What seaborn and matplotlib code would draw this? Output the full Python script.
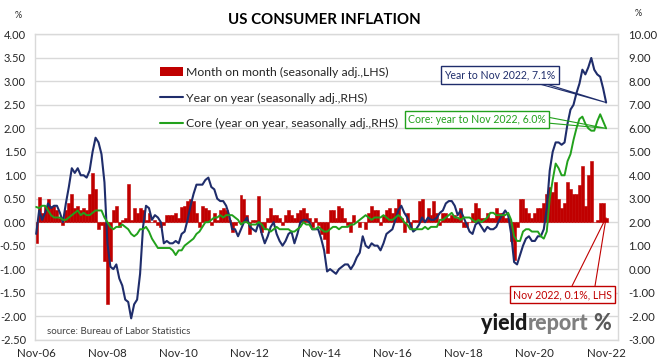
import numpy as np
import pandas as pd
import matplotlib
matplotlib.use('Agg')
import matplotlib.pyplot as plt
import seaborn as sns
from matplotlib.patches import Patch, Polygon
from matplotlib.lines import Line2D
from matplotlib.ticker import FormatStrFormatter

# monthly series, Nov 2006 .. Nov 2022
# month on month % (LHS)
mom = [-0.45, 0.53,
       0.2, 0.35, 0.5, 0.35, 0.35, 0.25, 0.1, -0.05, 0.25, 0.4, 0.6, 0.3,
       0.35, 0.25, 0.3, 0.25, 0.6, 1.05, 0.7, -0.15, -0.05, -0.82, -1.75, -0.82,
       0.25, 0.35, -0.1, 0.05, 0.1, 0.82, 0.05, 0.3, 0.2, 0.3, 0.25, 0.05,
       0.2, 0.0, 0.05, -0.05, -0.1, -0.05, 0.15, 0.15, 0.15, 0.2, 0.1, 0.32,
       0.35, 0.45, 0.5, 0.45, 0.2, -0.1, 0.35, 0.3, 0.25, -0.05, 0.2, 0.05,
       0.25, 0.3, 0.25, 0.05, -0.2, -0.05, 0.0, 0.57, 0.5, 0.15, -0.25, 0.05,
       0.05, 0.55, -0.2, -0.15, 0.1, 0.3, 0.15, 0.15, 0.1, -0.05, 0.15, 0.25,
       0.15, 0.1, 0.2, 0.25, 0.3, 0.2, 0.1, -0.1, 0.1, -0.05, -0.25, -0.35,
       -0.65, 0.25, 0.25, 0.1, 0.35, 0.3, 0.1, -0.05, -0.2, 0.15, 0.0, -0.1,
       0.0, -0.15, 0.2, 0.35, 0.25, 0.25, -0.05, 0.15, 0.25, 0.3, 0.2, 0.3,
       0.5, 0.1, -0.2, 0.2, -0.1, 0.05, 0.05, 0.45, 0.5, 0.05, 0.3, 0.15,
       0.45, 0.2, -0.05, 0.2, 0.2, 0.1, 0.15, 0.15, 0.1, 0.3, -0.1, -0.1,
       0.0, 0.2, 0.4, 0.3, 0.1, 0.1, 0.2, 0.1, 0.1, 0.3, 0.2, 0.2,
       0.1, 0.1, -0.4, -0.8, -0.1, 0.5, 0.5, 0.3, 0.2, 0.1, 0.2, 0.3,
       0.3, 0.4, 0.6, 0.75, 0.65, 0.85, 0.5, 0.3, 0.4, 0.85, 0.7, 0.6,
       0.6, 0.8, 1.2, 0.35, 1.0, 1.3, 0.0, 0.05, 0.4, 0.4, 0.1]

# year on year % (RHS)
yoy = [1.5, 2.5,
       2.1, 2.4, 2.8, 2.6, 2.7, 2.7, 2.4, 2.0, 2.8, 3.5, 4.3, 4.1,
       4.3, 4.0, 4.0, 3.9, 4.2, 5.0, 5.6, 5.4, 4.9, 3.7, 1.1, 0.1,
       0.0, 0.2, -0.4, -0.7, -1.3, -1.4, -2.1, -1.5, -1.3, -0.2, 1.8, 2.7,
       2.6, 2.1, 2.3, 2.2, 2.0, 1.1, 1.2, 1.1, 1.1, 1.2, 1.1, 1.5,
       1.6, 2.1, 2.7, 3.2, 3.6, 3.6, 3.6, 3.8, 3.9, 3.5, 3.4, 3.0,
       2.9, 2.9, 2.7, 2.3, 1.7, 1.7, 1.4, 1.7, 2.0, 2.2, 1.8, 1.7,
       1.6, 2.0, 1.5, 1.1, 1.4, 1.8, 2.0, 1.5, 1.2, 1.0, 1.2, 1.5,
       1.6, 1.1, 1.5, 2.0, 2.1, 2.1, 2.0, 1.7, 1.7, 1.7, 1.3, 0.8,
       -0.1, 0.0, -0.1, -0.2, 0.0, 0.1, 0.2, 0.2, 0.0, 0.2, 0.5, 0.7,
       1.4, 1.0, 0.9, 1.1, 1.0, 1.0, 0.8, 1.1, 1.5, 1.6, 1.7, 2.1,
       2.5, 2.7, 2.4, 2.2, 1.9, 1.6, 1.7, 1.9, 2.2, 2.0, 2.2, 2.1,
       2.1, 2.2, 2.4, 2.5, 2.8, 2.9, 2.9, 2.7, 2.3, 2.5, 2.2, 1.9,
       1.6, 1.5, 1.9, 2.0, 1.8, 1.6, 1.8, 1.7, 1.7, 1.8, 2.1, 2.3,
       2.5, 2.3, 1.5, 0.3, 0.2, 0.6, 1.0, 1.3, 1.4, 1.2, 1.2, 1.4,
       1.4, 1.7, 2.6, 4.2, 5.0, 5.4, 5.4, 5.3, 5.4, 6.2, 6.8, 7.0,
       7.5, 7.9, 8.5, 8.3, 8.6, 9.0, 8.5, 8.3, 8.2, 7.7, 7.1]

# core year on year % (RHS)
core = [2.65, 2.6,
        2.7, 2.7, 2.5, 2.3, 2.2, 2.2, 2.2, 2.1, 2.1, 2.2, 2.3, 2.4,
        2.5, 2.3, 2.4, 2.3, 2.3, 2.4, 2.5, 2.5, 2.5, 2.2, 2.0, 1.8,
        1.7, 1.8, 1.8, 1.9, 1.8, 1.7, 1.5, 1.4, 1.5, 1.7, 1.7, 1.8,
        1.6, 1.3, 1.1, 0.9, 0.9, 0.9, 0.9, 0.9, 0.8, 0.6, 0.8, 0.8,
        1.0, 1.1, 1.2, 1.3, 1.5, 1.6, 1.8, 2.0, 2.0, 2.1, 2.2, 2.2,
        2.3, 2.2, 2.3, 2.3, 2.3, 2.2, 2.1, 1.9, 2.0, 2.0, 1.9, 1.9,
        1.9, 2.0, 1.9, 1.7, 1.7, 1.6, 1.7, 1.8, 1.7, 1.7, 1.7, 1.7,
        1.6, 1.6, 1.7, 1.8, 2.0, 1.9, 1.9, 1.7, 1.7, 1.8, 1.7, 1.6,
        1.6, 1.7, 1.8, 1.8, 1.7, 1.8, 1.8, 1.8, 1.9, 1.9, 2.0, 2.1,
        2.2, 2.3, 2.2, 2.1, 2.2, 2.2, 2.2, 2.3, 2.2, 2.1, 2.1, 2.2,
        2.3, 2.2, 2.0, 1.9, 1.7, 1.7, 1.7, 1.7, 1.7, 1.8, 1.7, 1.8,
        1.8, 1.8, 2.1, 2.1, 2.2, 2.3, 2.4, 2.2, 2.2, 2.1, 2.2, 2.2,
        2.2, 2.1, 2.0, 2.1, 2.0, 2.1, 2.2, 2.4, 2.4, 2.3, 2.3, 2.3,
        2.3, 2.4, 2.1, 1.4, 1.2, 1.2, 1.6, 1.7, 1.7, 1.6, 1.6, 1.6,
        1.4, 1.3, 1.6, 3.0, 3.8, 4.5, 4.3, 4.0, 4.0, 4.6, 4.9, 5.5,
        6.0, 6.4, 6.5, 6.2, 6.0, 5.9, 5.9, 6.3, 6.6, 6.3, 6.0]

tick_labels = ['Nov-06', 'Nov-08', 'Nov-10', 'Nov-12', 'Nov-14',
               'Nov-16', 'Nov-18', 'Nov-20', 'Nov-22']
legend_labels = ['Month on month (seasonally adj.,LHS)',
                 'Year on year (seasonally adj.,RHS)',
                 'Core (year on year, seasonally adj.,RHS)']

df = pd.DataFrame({'month': np.arange(len(mom)), 'mom': mom, 'yoy': yoy, 'core': core})

sns.set_style('white')
plt.rcParams['font.family'] = ['Lato', 'DejaVu Sans']
plt.rcParams['axes.unicode_minus'] = False

RED = '#C00000'
NAVY = '#1F2D6B'
GREEN = '#22A11C'
GRID = '#D9D9D9'
TXT = '#262626'

W, H = 662, 363
fig = plt.figure(figsize=(W / 100, H / 100), dpi=100)
ax = fig.add_axes([35 / W, 23.5 / H, 583 / W, 305 / H])

# bars on the left axis
sns.barplot(data=df, x='month', y='mom', native_scale=True, color=RED,
            saturation=1, width=1, errorbar=None, linewidth=0.4, edgecolor=RED, ax=ax)

ax2 = ax.twinx()
sns.lineplot(data=df, x='month', y='yoy', color=NAVY, lw=1.5, ax=ax2)
sns.lineplot(data=df, x='month', y='core', color=GREEN, lw=1.4, ax=ax2)

ax.set_xlim(-0.4, 196)
ax.set_ylim(-2.5, 4)
ax.set_yticks(np.arange(-2.5, 4.01, 0.5))
ax.yaxis.set_major_formatter(FormatStrFormatter('%.2f'))
ax2.set_ylim(-3, 10)
ax2.set_yticks(np.arange(-3, 10.01, 1))
ax2.yaxis.set_major_formatter(FormatStrFormatter('%.2f'))
ax.set_xticks(np.arange(0, len(mom), 24))
ax.set_xticklabels(tick_labels)
for a in (ax, ax2):
    a.set_xlabel('')
    a.set_ylabel('')
ax.tick_params(axis='both', length=0, labelsize=8.0, labelcolor=TXT)
ax.tick_params(axis='x', labelsize=8.3, pad=6)
ax.tick_params(axis='y', pad=6.5)
ax2.tick_params(axis='y', length=0, labelsize=8.2, labelcolor=TXT, pad=7.5)

ax.yaxis.grid(True, color=GRID, lw=1)
ax.set_axisbelow(True)
for s in ax.spines.values():
    s.set_color(GRID)
    s.set_linewidth(1)
for s in ax2.spines.values():
    s.set_visible(False)

# title and unit marks
fig.text(324 / W, 1 - 20.5 / H, 'US CONSUMER INFLATION', ha='center', va='center',
         fontsize=10.8, fontweight='bold', color='black')
fig.text(18 / W, 1 - 15 / H, '%', ha='center', va='center', fontsize=6.5, color=TXT)
fig.text(638 / W, 1 - 13 / H, '%', ha='center', va='center', fontsize=6.5, color=TXT)

# legend
handles = [Patch(facecolor=RED, edgecolor='none'),
           Line2D([], [], color=NAVY, lw=1.5),
           Line2D([], [], color=GREEN, lw=1.5)]
leg = fig.legend(handles, legend_labels, loc='upper left',
                 bbox_to_anchor=(160 / W, 1 - 67 / H), frameon=False,
                 fontsize=8.8, handlelength=1.85, handletextpad=0.25,
                 labelspacing=1.2, borderpad=0, borderaxespad=0)
for t in leg.get_texts():
    t.set_color(TXT)


def fig_frac(px, py):
    return (px / W, 1 - py / H)


def data_frac(axis, x, y):
    return fig.transFigure.inverted().transform(axis.transData.transform((x, y)))


last = len(mom) - 1
callouts = [
    ('Year to Nov 2022, 7.1%', NAVY, (500, 75), [(536, 83), (543, 83)], ax2, yoy[-1]),
    ('Core: year to Nov 2022, 6.0%', GREEN, (477, 119.5), [(547, 117), (547, 123)], ax2, core[-1]),
    ('Nov 2022, 0.1%, LHS', RED, (562.5, 294.5), [(572, 286), (595, 286)], ax, mom[-1]),
]
for text, col, (cx, cy), base, axis, val in callouts:
    tip = data_frac(axis, last, val)
    pts = [fig_frac(*base[0]), tip, fig_frac(*base[1])]
    fig.add_artist(Polygon(pts, closed=False, fill=False, edgecolor=col, lw=0.8,
                           transform=fig.transFigure))
    fig.text(cx / W, 1 - cy / H, text, ha='center', va='center', color=col, fontsize=7.6,
             bbox=dict(boxstyle='square,pad=0.3', fc='white', ec=col, lw=1))

fig.text(47 / W, 1 - 331.5 / H, 'source: Bureau of Labor Statistics', ha='left',
         va='center', fontsize=7, color='#404040')

# logo
t1 = fig.text(481 / W, 1 - 330.5 / H, 'yield', ha='left', va='baseline', fontsize=15.5,
              fontweight='black', color='#1A1A1A')
t2 = ax.annotate('report', xy=(1, 0), xycoords=t1, ha='left', va='bottom',
                 fontsize=15.5, fontweight='black', color='#7F7F7F', annotation_clip=False)
ax.annotate('%', xy=(1, 0), xycoords=t2, xytext=(4, 0), textcoords='offset points',
            ha='left', va='bottom', fontsize=15.5, fontweight='black', color='#5A5A5A',
            annotation_clip=False)

fig.savefig('out.png', dpi=100)
